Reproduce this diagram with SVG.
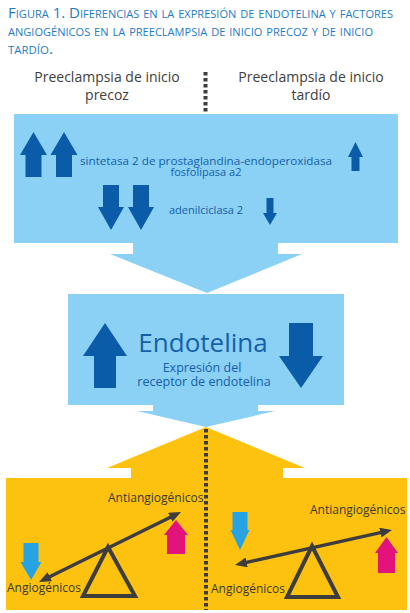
<svg xmlns="http://www.w3.org/2000/svg" width="410" height="613" viewBox="0 0 410 613">
<style>
.title{font-family:"Open Sans","Liberation Sans",sans-serif;font-size:15px;font-variant:small-caps;fill:#1F7BC2;}
.hdr{font-family:"Open Sans","Liberation Sans",sans-serif;font-size:14px;fill:#404040;text-anchor:middle;}
.btxt{font-family:"Open Sans","Liberation Sans",sans-serif;font-size:11px;fill:#1560A8;text-anchor:middle;}
.sub{font-family:"Open Sans","Liberation Sans",sans-serif;font-size:12.5px;fill:#1560A8;text-anchor:middle;}
.big{font-family:"Open Sans","Liberation Sans",sans-serif;font-size:26px;fill:#1560A8;text-anchor:middle;}
.ytxt{font-family:"Open Sans","Liberation Sans",sans-serif;font-size:12px;fill:#3a3a3a;}
.lb{fill:#8BD0F5;}
.dk{fill:#0B5CA8;}
.yl{fill:#FDC20F;}
.sky{fill:#27A3E3;}
.pk{fill:#E2137B;}
.dot{stroke:#3d3d3d;stroke-width:4;stroke-dasharray:3.5 2.5;fill:none;}
.beam{stroke:#3d3d3d;stroke-width:3.5;fill:none;marker-start:url(#ah);marker-end:url(#ah);}
.tri{stroke:#3d3d3d;stroke-width:4;fill:none;stroke-linejoin:miter;}
</style>
<defs>
<marker id="ah" markerUnits="userSpaceOnUse" markerWidth="12" markerHeight="10" refX="7" refY="5" orient="auto-start-reverse" viewBox="0 0 12 10">
<path d="M0,0 L12,5 L0,10 Z" fill="#3d3d3d"/>
</marker>
</defs>
<rect width="410" height="613" fill="#ffffff"/>
<g id="title">
<text class="title" x="8" y="18" textLength="385" lengthAdjust="spacingAndGlyphs">Figura 1. Diferencias en la expresión de endotelina y factores</text>
<text class="title" x="8" y="36" textLength="365" lengthAdjust="spacingAndGlyphs">angiogénicos en la preeclampsia de inicio precoz y de inicio</text>
<text class="title" x="8" y="54" textLength="45" lengthAdjust="spacingAndGlyphs">tardío.</text>
</g>
<g id="headers">
<text class="hdr" x="107" y="82">Preeclampsia de inicio</text>
<text class="hdr" x="107" y="100">precoz</text>
<text class="hdr" x="311" y="82">Preeclampsia de inicio</text>
<text class="hdr" x="311" y="100">tardío</text>
</g>
<g id="box1">
<rect class="lb" x="14" y="114" width="384" height="129"/>
<path class="dk" d="M33.5,132 L47,155 L41.5,155 L41.5,177 L25.5,177 L25.5,155 L20,155 Z"/>
<path class="dk" d="M64,132 L77.5,155 L72,155 L72,177 L56,177 L56,155 L50.5,155 Z"/>
<path class="dk" d="M103,185 L119,185 L119,207 L124,207 L111,230 L98,207 L103,207 Z"/>
<path class="dk" d="M133,185 L149,185 L149,207 L154,207 L141,230 L128,207 L133,207 Z"/>
<path class="dk" d="M355.5,142 L363,157 L359.5,157 L359.5,171 L351.5,171 L351.5,157 L348,157 Z"/>
<path class="dk" d="M266.5,198 L273.5,198 L273.5,213 L277,213 L270,225 L263,213 L266.5,213 Z"/>
<text class="btxt" x="206" y="164.5" textLength="252" lengthAdjust="spacingAndGlyphs">sintetasa 2 de prostaglandina-endoperoxidasa</text>
<text class="btxt" x="206" y="176">fosfolipasa a2</text>
<text class="btxt" x="206" y="214">adenilciclasa 2</text>
</g>
<g id="box2">
<rect class="lb" x="68" y="294" width="276" height="111"/>
<path class="dk" d="M105,323 L127,356 L116,356 L116,388 L94,388 L94,356 L83,356 Z"/>
<path class="dk" d="M289,323 L313,323 L313,356 L323,356 L301,388 L279,356 L289,356 Z"/>
<text class="big" x="203" y="352">Endotelina</text>
<text class="sub" x="202" y="372">Expresión del</text>
<text class="sub" x="204" y="386">receptor de endotelina</text>
</g>
<g id="bottom">
<path class="yl" d="M206,427 L305,468 L283,468 L283,478 L407,478 L407,610 L6,610 L6,478 L131,478 L131,468 L107,468 Z"/>
<polygon class="tri" points="108,547 135,596 83,596"/>
<polygon class="tri" points="312,546 338,597 287,597"/>
<path class="sky" d="M23.5,543 L38.5,543 L38.5,562 L41.5,562 L31,580 L20.5,562 L23.5,562 Z"/>
<path class="sky" d="M232.5,512 L247.5,512 L247.5,530 L249.5,530 L240,550 L230.5,530 L232.5,530 Z"/>
<path class="pk" d="M176,520 L188,535 L185,535 L185,554 L167,554 L167,535 L164,535 Z"/>
<path class="pk" d="M386.5,537 L398,553 L395,553 L395,573 L378,573 L378,553 L375,553 Z"/>
<line class="beam" x1="43.5" y1="579.8" x2="176.5" y2="514.2"/>
<line class="beam" x1="239.9" y1="563.9" x2="387.1" y2="531.1"/>
<text class="ytxt" x="108" y="502">Antiangiogénicos</text>
<text class="ytxt" x="7" y="592">Angiogénicos</text>
<text class="ytxt" x="310" y="514">Antiangiogénicos</text>
<text class="ytxt" x="211" y="593">Angiogénicos</text>
</g>
<g id="connectors">
<path class="lb" d="M133,242 L278,242 L278,254 L302,254 L207,293 L110,254 L133,254 Z"/>
<path class="lb" d="M153,404 L258,404 L258,411 L275,411 L206,427 L137,411 L153,411 Z"/>
<line class="dot" x1="205.5" y1="72" x2="205.5" y2="114"/>
<line class="dot" x1="206" y1="429" x2="206" y2="610"/>
</g>
</svg>
